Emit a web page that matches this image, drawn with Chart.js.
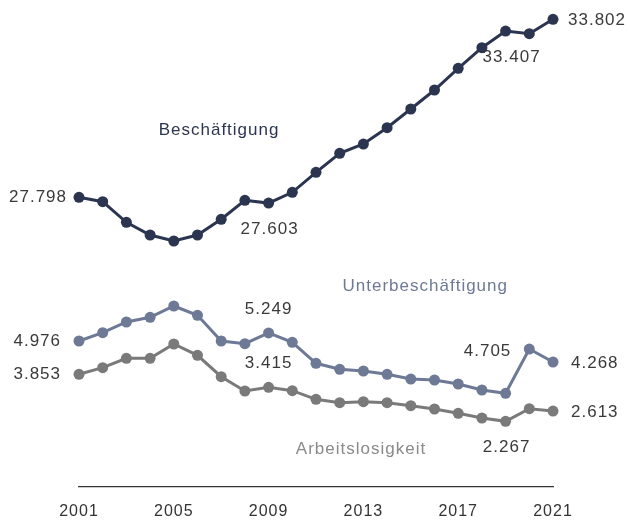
<!DOCTYPE html>
<html>
<head>
<meta charset="utf-8">
<script src="https://cdn.jsdelivr.net/npm/chart.js@4"></script>
<style>
  html, body { margin: 0; padding: 0; background: #fff; }
  #wrap { width: 630px; height: 520px; }
</style>
</head>
<body>
<div id="wrap"><canvas id="c" width="630" height="520"></canvas></div>
<script>
// ---- data (values in thousands) ----
const years = ['2001','2002','2003','2004','2005','2006','2007','2008','2009','2010','2011','2012','2013','2014','2015','2016','2017','2018','2019','2020','2021'];
const beschaeftigung = [27798, 27650, 26955, 26527, 26325, 26527, 27057, 27697, 27603, 27967, 28642, 29283, 29596, 30146, 30777, 31418, 32149, 32844, 33407, 33316, 33802];
const unterbeschaeftigung = [4976, 5256, 5617, 5775, 6157, 5843, 4976, 4885, 5249, 4932, 4224, 4022, 3964, 3853, 3694, 3661, 3526, 3324, 3212, 4705, 4268];
const arbeitslosigkeit = [3853, 4076, 4393, 4393, 4875, 4494, 3772, 3290, 3415, 3300, 3010, 2895, 2929, 2895, 2794, 2683, 2538, 2379, 2267, 2693, 2613];
const seriesNames = ['Beschäftigung', 'Unterbeschäftigung', 'Arbeitslosigkeit'];
const shownTicks = ['2001','2005','2009','2013','2017','2021'];

// ---- styles ----
const colors = ['#2c3550', '#6d7995', '#7a7a7a'];
const labelColors = ['#2c3550', '#6d7995', '#8a8a8a'];
const textColor = '#3a3a3a';
const FONT = '"Liberation Sans", Arial, sans-serif';

// value labels: dataset, index, alignment, pixel offsets
const valueLabels = [
  {ds:0, i:0,  align:'right',  dx:-12, dy:0},
  {ds:0, i:8,  align:'center', dx:1,   dy:26},
  {ds:0, i:18, align:'center', dx:6,   dy:26},
  {ds:0, i:20, align:'left',   dx:15,  dy:1},
  {ds:1, i:0,  align:'right',  dx:-18, dy:0},
  {ds:1, i:8,  align:'center', dx:0,   dy:-24},
  {ds:1, i:19, align:'right',  dx:-18, dy:2},
  {ds:1, i:20, align:'left',   dx:18,  dy:1},
  {ds:2, i:0,  align:'right',  dx:-18, dy:0},
  {ds:2, i:8,  align:'center', dx:0,   dy:-24},
  {ds:2, i:18, align:'center', dx:1,   dy:26},
  {ds:2, i:20, align:'left',   dx:18,  dy:1}
];
// series name labels placed in data coordinates (x index, y value on that series' axis)
const nameLabels = [
  {ds:0, x:5.91,  y:30070},
  {ds:1, x:14.61, y:6807},
  {ds:2, x:11.9,  y:1323}
];

const fmt = v => v.toLocaleString('de-DE');

const labelPlugin = {
  id: 'labels',
  beforeDraw(chart) { chart.ctx.letterSpacing = '1px'; },
  afterDatasetsDraw(chart) {
    const ctx = chart.ctx;
    ctx.save();
    ctx.letterSpacing = '1px';
    ctx.font = '17px ' + FONT;
    ctx.textBaseline = 'middle';
    valueLabels.forEach(l => {
      const meta = chart.getDatasetMeta(l.ds);
      const pt = meta.data[l.i];
      const v = chart.data.datasets[l.ds].data[l.i];
      ctx.fillStyle = textColor;
      ctx.textAlign = l.align;
      ctx.fillText(fmt(v), pt.x + l.dx, pt.y + l.dy);
    });
    const xs = chart.scales.x;
    nameLabels.forEach(n => {
      const ds = chart.data.datasets[n.ds];
      const ys = chart.scales[ds.yAxisID];
      ctx.fillStyle = labelColors[n.ds];
      ctx.textAlign = 'center';
      ctx.fillText(seriesNames[n.ds], xs.getPixelForValue(n.x), ys.getPixelForValue(n.y));
    });
    ctx.restore();
  }
};

function mkDs(i, data, axis) {
  return {
    label: seriesNames[i],
    data: data,
    yAxisID: axis,
    borderColor: colors[i],
    backgroundColor: colors[i],
    pointBackgroundColor: colors[i],
    pointBorderColor: colors[i],
    borderWidth: 3,
    pointRadius: 5.5,
    pointBorderWidth: 0,
    tension: 0,
    clip: false
  };
}

new Chart(document.getElementById('c'), {
  type: 'line',
  data: {
    labels: years,
    datasets: [
      mkDs(0, beschaeftigung, 'y2'),
      mkDs(1, unterbeschaeftigung, 'y'),
      mkDs(2, arbeitslosigkeit, 'y')
    ]
  },
  options: {
    responsive: false,
    animation: false,
    devicePixelRatio: 1,
    layout: { padding: { left: 79, right: 77, top: 10, bottom: 0 } },
    plugins: { legend: { display: false }, tooltip: { enabled: false } },
    scales: {
      x: {
        offset: false,
        afterFit: s => { s.height = 33; },
        grid: { display: false, drawTicks: false },
        border: { display: true, color: '#333', width: 1.3 },
        ticks: {
          autoSkip: false,
          maxRotation: 0,
          padding: 15,
          color: '#333',
          font: { family: FONT, size: 16 },
          callback: function(val) {
            const lab = this.getLabelForValue(val);
            return shownTicks.includes(lab) ? lab : '';
          }
        }
      },
      y: { display: false, min: 52, max: 16140 },
      y2: { display: false, min: 18028, max: 34116 }
    }
  },
  plugins: [labelPlugin]
});
</script>
</body>
</html>
